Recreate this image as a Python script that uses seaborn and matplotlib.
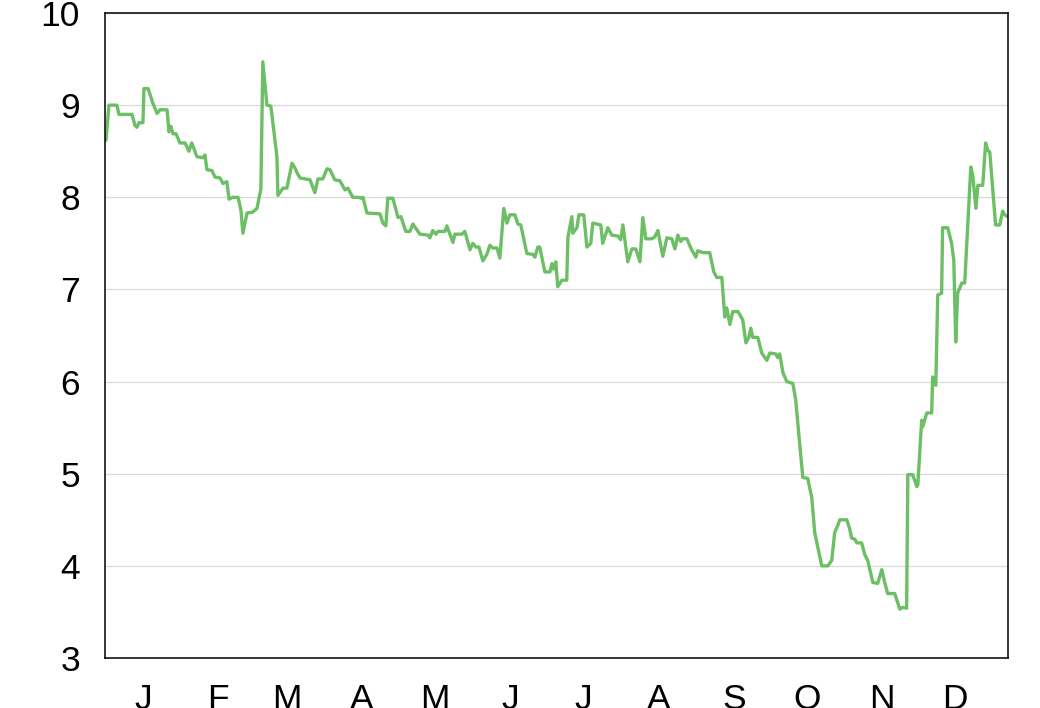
import seaborn as sns
import pandas as pd
import matplotlib.pyplot as plt
import matplotlib.dates as mdates
from matplotlib.ticker import FuncFormatter

days = [
    -15.2, -14.0, -10.7, -9.9, -4.5, -3.3, -2.5, -1.6, 0.0, 0.4, 2.1, 4.1, 5.8, 7.0, 9.9,
    10.7, 11.5, 12.3, 13.6, 15.2, 17.3, 18.9, 20.1, 22.2, 24.7, 25.5, 26.3, 28.4, 29.6,
    31.7, 32.9, 34.5, 35.4, 37.0, 39.1, 40.3, 41.1, 42.8, 45.2, 46.9, 48.5, 49.3, 51.0,
    52.6, 55.1, 55.5, 57.6, 59.2, 61.3, 62.5, 63.3, 64.6, 68.7, 70.7, 72.0, 74.0, 75.7,
    76.9, 78.9, 81.0, 83.1, 84.3, 86.3, 88.4, 90.0, 90.5, 92.1, 97.5, 98.7, 99.9, 100.7,
    102.8, 104.9, 106.1, 108.1, 109.8, 111.0, 113.9, 117.2, 118.0, 119.2, 120.5, 121.3,
    124.2, 125.0, 127.5, 128.3, 131.2, 132.4, 134.5, 135.7, 136.9, 138.2, 139.8, 141.4,
    142.7, 143.9, 145.6, 146.8, 148.4, 149.7, 150.9, 153.0, 154.2, 155.4, 157.9, 160.4,
    161.2, 162.4, 163.2, 165.3, 167.4, 168.2, 169.0, 169.8, 170.6, 172.3, 174.3, 174.8,
    176.4, 176.8, 178.5, 179.3, 181.3, 182.6, 184.2, 185.0, 188.3, 189.1, 191.2, 192.8,
    195.3, 196.5, 197.4, 199.4, 201.1, 202.7, 204.4, 205.6, 206.8, 209.3, 210.5, 211.8,
    213.8, 215.5, 217.5, 218.8, 220.0, 221.2, 222.0, 223.7, 225.7, 227.4, 228.2, 230.3,
    233.1, 234.8, 236.0, 238.1, 239.3, 240.1, 241.4, 242.6, 244.7, 246.7, 248.0, 249.2,
    250.0, 250.8, 252.9, 254.5, 256.6, 257.8, 260.3, 261.1, 261.9, 263.2, 264.8, 267.3,
    268.5, 269.3, 271.4, 273.4, 275.1, 276.3, 279.2, 281.7, 283.3, 284.5, 285.8, 286.6,
    289.5, 290.7, 291.5, 292.8, 293.6, 295.6, 296.9, 298.1, 300.2, 302.2, 303.9, 305.1,
    306.3, 309.2, 311.3, 312.5, 314.1, 314.6, 316.6, 318.3, 318.7, 320.3, 320.7, 322.4,
    324.4, 324.8, 326.1, 326.9, 328.5, 328.9, 331.0, 332.6, 333.5, 334.3, 335.1, 336.8,
    338.0, 340.5, 341.3, 342.6, 343.4, 345.4, 346.6, 347.5, 348.3, 350.7, 352.4, 353.6,
    354.4, 355.7,
]
values = [
    8.62, 9.00, 9.00, 8.90, 8.90, 8.78, 8.76, 8.81, 8.81, 9.18, 9.18, 9.02, 8.91, 8.95, 8.95,
    8.71, 8.77, 8.69, 8.69, 8.59, 8.59, 8.50, 8.59, 8.44, 8.43, 8.46, 8.30, 8.29, 8.22,
    8.21, 8.15, 8.17, 7.98, 8.00, 8.00, 7.86, 7.61, 7.83, 7.84, 7.88, 8.09, 9.47, 9.00,
    8.99, 8.44, 8.02, 8.10, 8.10, 8.37, 8.32, 8.27, 8.21, 8.19, 8.05, 8.20, 8.20, 8.31,
    8.30, 8.19, 8.18, 8.08, 8.10, 8.00, 8.00, 7.99, 8.00, 7.83, 7.82, 7.72, 7.69, 7.99,
    7.99, 7.78, 7.79, 7.63, 7.63, 7.71, 7.60, 7.59, 7.56, 7.64, 7.60, 7.63,
    7.63, 7.69, 7.51, 7.60, 7.60, 7.63, 7.43, 7.50, 7.46, 7.46, 7.31, 7.38,
    7.48, 7.45, 7.45, 7.34, 7.88, 7.72, 7.81, 7.81, 7.71, 7.70, 7.39, 7.38,
    7.35, 7.46, 7.46, 7.19, 7.19, 7.28, 7.22, 7.30, 7.03, 7.10, 7.10, 7.57,
    7.79, 7.61, 7.67, 7.81, 7.81, 7.46, 7.50, 7.72, 7.70, 7.50, 7.67, 7.59,
    7.58, 7.54, 7.70, 7.30, 7.44, 7.44, 7.30, 7.78, 7.55, 7.55, 7.57, 7.64,
    7.36, 7.56, 7.55, 7.44, 7.59, 7.52, 7.55, 7.55, 7.43, 7.35, 7.42, 7.40,
    7.40, 7.19, 7.13, 7.13, 6.70, 6.80, 6.62, 6.76, 6.76, 6.67, 6.42, 6.48,
    6.58, 6.48, 6.48, 6.31, 6.23, 6.31, 6.30, 6.26, 6.30, 6.10, 6.00, 5.98,
    5.80, 5.56, 4.96, 4.95, 4.74, 4.36, 4.00, 4.00, 4.06, 4.36, 4.44, 4.50,
    4.50, 4.40, 4.30, 4.29, 4.25, 4.25, 4.12, 4.06, 3.82, 3.81, 3.96, 3.82,
    3.70, 3.70, 3.53, 3.55, 3.54, 4.99, 4.99, 4.86, 4.88, 5.58, 5.51, 5.66,
    5.66, 6.05, 5.96, 6.94, 6.96, 7.67, 7.67, 7.50, 7.32, 6.43, 6.96, 7.07,
    7.07, 8.33, 8.24, 7.88, 8.13, 8.13, 8.59, 8.51, 8.49, 7.70, 7.70, 7.85,
    7.81, 7.79,
]
month_labels = ["J", "F", "M", "A", "M", "J", "J", "A", "S", "O", "N", "D"]
y_ticks = [3, 4, 5, 6, 7, 8, 9, 10]

start = pd.Timestamp("2021-01-01")
df = pd.DataFrame({
    "date": start + pd.to_timedelta(days, unit="D"),
    "value": values,
})

sns.set_style("white")
plt.rcParams["font.family"] = ["Liberation Sans", "DejaVu Sans"]

fig = plt.figure(figsize=(10.4, 7.08), dpi=100)
ax = fig.add_axes([0.101, 0.0706, 0.868, 0.911])

sns.lineplot(data=df, x="date", y="value", color="#6cbf64", linewidth=2.4, ax=ax)

ax.set_xlim(start + pd.Timedelta(days=-15.6), start + pd.Timedelta(days=355.7))
ax.set_ylim(3, 10)
ax.set_yticks(y_ticks)
ax.yaxis.grid(True, color="#d9d9d9", linewidth=0.9)
ax.set_axisbelow(True)

ax.xaxis.set_major_locator(mdates.MonthLocator())
ax.xaxis.set_major_formatter(
    FuncFormatter(lambda x, pos: month_labels[mdates.num2date(x).month - 1]))

ax.tick_params(axis="both", labelsize=25.5, length=12, width=1.1, color="black",
               direction="out", labelcolor="black")
ax.tick_params(axis="y", pad=6)
ax.tick_params(axis="x", pad=6)

for side in ["left", "right", "top", "bottom"]:
    ax.spines[side].set_visible(True)
    ax.spines[side].set_color("black")
    ax.spines[side].set_linewidth(1.1)

ax.set_xlabel("")
ax.set_ylabel("")

plt.savefig("out.png", dpi=100)
